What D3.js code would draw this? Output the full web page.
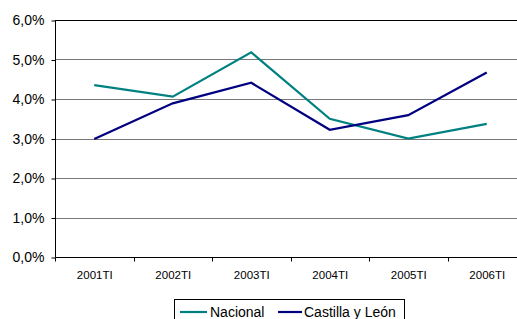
<!DOCTYPE html>
<html><head><meta charset="utf-8">
<script src="https://cdn.jsdelivr.net/npm/d3@7"></script>
<style>body{margin:0;background:#fff}svg{display:block}text{font-family:Arial,"Liberation Sans",sans-serif}</style>
</head><body>
<svg id="c" width="517" height="319"></svg>
<script>
const categories = ["2001TI","2002TI","2003TI","2004TI","2005TI","2006TI"];
const nacional = [4.35, 4.06, 5.18, 3.50, 3.00, 3.37];
const castilla = [2.99, 3.89, 4.41, 3.22, 3.59, 4.67];
const yTicks = [0,1,2,3,4,5,6];
const seriesNames = ["Nacional","Castilla y León"];
const seriesColors = ["#008080","#000080"];

(function(){
const svg = d3.select("#c");
const pL = 55, pR = 526, pT = 20, pB = 257;
const x = d3.scaleBand().domain(categories).range([pL, pR]);
const y = d3.scaleLinear().domain([0,6]).range([pB, pT]);
const fmt = v => d3.format(".1f")(v).replace(".", ",") + "%";

// gridlines
svg.append("g").selectAll("line").data(yTicks.filter(t=>t>0)).join("line")
  .attr("x1", pL).attr("x2", pR)
  .attr("y1", d=>Math.round(y(d))+0.5).attr("y2", d=>Math.round(y(d))+0.5)
  .attr("stroke", d=> d===6 ? "#000" : "#777").attr("stroke-width",1);

// y axis
const ya = svg.append("g").attr("transform",`translate(${pL+0.5},0.5)`)
  .call(d3.axisLeft(y).tickValues(yTicks).tickFormat(fmt).tickSize(4).tickPadding(7));
ya.select(".domain").attr("stroke","#000").attr("d",`M0,${y(6)}V${pB}`);
ya.selectAll(".tick line").attr("stroke","#000");
ya.selectAll(".tick text").attr("font-size","14px").attr("fill","#000")
  .attr("font-family","Arial,'Liberation Sans',sans-serif");

// x axis
const xa = svg.append("g").attr("transform",`translate(0.5,${pB+0.5})`)
  .call(d3.axisBottom(x).tickSize(0).tickPadding(13));
xa.select(".domain").attr("stroke","#000").attr("d",`M${pL},0H${pR}`);
xa.selectAll(".tick text").attr("font-size","11.5px").attr("fill","#000")
  .attr("font-family","Arial,'Liberation Sans',sans-serif");
xa.append("g").selectAll("line").data(categories).join("line")
  .attr("x1", d=>Math.round(x(d))).attr("x2", d=>Math.round(x(d)))
  .attr("y1",0).attr("y2",4).attr("stroke","#000");

// lines
const line = d3.line().x((d,i)=>x(categories[i])+x.bandwidth()/2).y(d=>y(d));
[nacional, castilla].forEach((s,i)=>{
  svg.append("path").attr("d", line(s)).attr("fill","none")
    .attr("stroke", seriesColors[i]).attr("stroke-width",2.2).attr("stroke-linejoin","miter");
});

// legend
const lg = svg.append("g");
lg.append("rect").attr("x",174.5).attr("y",299.5).attr("width",230).attr("height",30)
  .attr("fill","#fff").attr("stroke","#000");
const items = [{x0:180,x1:207,tx:210},{x0:278,x1:302,tx:304}];
items.forEach((it,i)=>{
  lg.append("line").attr("x1",it.x0).attr("x2",it.x1).attr("y1",312).attr("y2",312)
    .attr("stroke",seriesColors[i]).attr("stroke-width",2.2);
  lg.append("text").attr("x",it.tx).attr("y",317).attr("font-size","14px").attr("fill","#000")
    .text(seriesNames[i]);
});
})();
</script>
</body></html>
